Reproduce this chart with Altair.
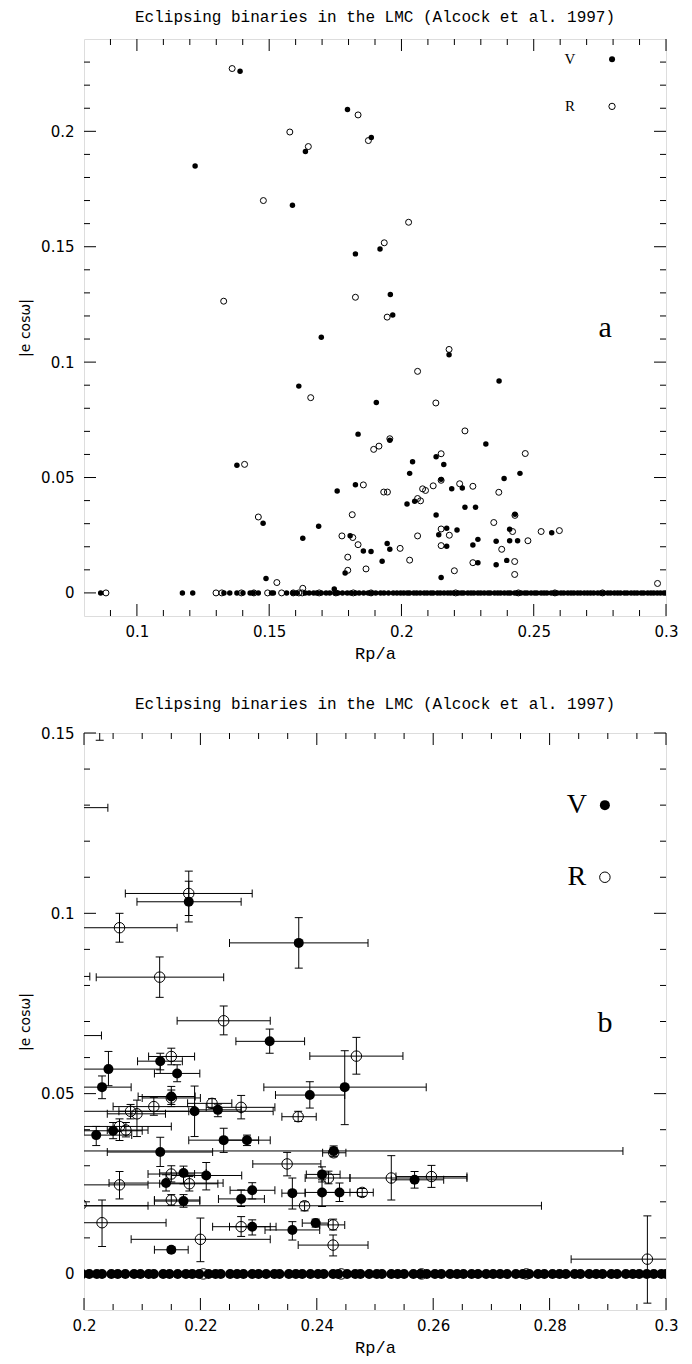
import altair as alt
import pandas as pd

TITLE = "Eclipsing binaries in the LMC (Alcock et al. 1997)"

# ---------------- V band (filled) : non-zero |e cos w| ----------------
v_x = [0.1390, 0.1220, 0.1588, 0.1637, 0.1796, 0.1886, 0.1826, 0.1919, 0.1967, 0.1697,
       0.1612, 0.1836, 0.1826, 0.1757, 0.1687, 0.1627, 0.1806, 0.1946, 0.1856, 0.1885,
       0.1927, 0.1787, 0.1746, 0.1378, 0.1477, 0.1488,
       0.1958, 0.1905, 0.1956, 0.1956,
       0.2180, 0.2369, 0.2319, 0.2131, 0.2042, 0.2160, 0.2031, 0.2448, 0.2388, 0.2150,
       0.2190, 0.2230, 0.2050, 0.2021, 0.2240, 0.2280, 0.2131, 0.2429, 0.2409, 0.2568,
       0.2171, 0.2210, 0.2141, 0.2289, 0.2358, 0.2409, 0.2439, 0.2270, 0.2171, 0.2289,
       0.2358, 0.2398, 0.2150]
v_y = [0.2260, 0.1850, 0.1680, 0.1913, 0.2095, 0.1973, 0.1469, 0.1490, 0.1204, 0.1108,
       0.0896, 0.0688, 0.0469, 0.0442, 0.0289, 0.0237, 0.0248, 0.0214, 0.0182, 0.0179,
       0.0137, 0.0086, 0.0017, 0.0553, 0.0302, 0.0062,
       0.1293, 0.0825, 0.0661, 0.0189,
       0.1032, 0.0918, 0.0645, 0.0590, 0.0568, 0.0556, 0.0518, 0.0518, 0.0496, 0.0492,
       0.0451, 0.0455, 0.0397, 0.0385, 0.0371, 0.0371, 0.0338, 0.0341, 0.0276, 0.0261,
       0.0280, 0.0273, 0.0252, 0.0232, 0.0224, 0.0226, 0.0226, 0.0208, 0.0202, 0.0131,
       0.0122, 0.0141, 0.0067]
N0 = [None] * 26
v_xlo = N0 + [0.1875, 0.1800, 0.1882, 0.1802,
              0.2091, 0.2250, 0.2261, 0.2092, 0.1955, 0.2121, 0.1981, 0.2309, 0.2329, 0.2093,
              0.2060, 0.2191, 0.2000, 0.1960, 0.2180, 0.2240, 0.2040, 0.1932, 0.2382, 0.2528,
              0.2130, 0.2150, 0.2043, 0.2251, 0.2340, 0.2380, 0.2410, 0.2231, 0.2121, 0.2250,
              0.2311, 0.2375, 0.2121]
v_xhi = N0 + [0.2041, 0.2010, 0.2030, 0.2110,
              0.2270, 0.2488, 0.2379, 0.2169, 0.2131, 0.2199, 0.2081, 0.2588, 0.2448, 0.2191,
              0.2325, 0.2270, 0.2100, 0.2082, 0.2300, 0.2320, 0.2221, 0.2926, 0.2440, 0.2618,
              0.2210, 0.2271, 0.2239, 0.2328, 0.2380, 0.2440, 0.2470, 0.2310, 0.2199, 0.2330,
              0.2405, 0.2420, 0.2179]
v_ylo = N0 + [0.1240, 0.0780, 0.0620, 0.0160,
              0.0976, 0.0848, 0.0612, 0.0566, 0.0522, 0.0533, 0.0486, 0.0414, 0.0460, 0.0464,
              0.0381, 0.0436, 0.0375, 0.0356, 0.0337, 0.0356, 0.0298, 0.0327, 0.0255, 0.0238,
              0.0250, 0.0233, 0.0230, 0.0208, 0.0180, 0.0187, 0.0201, 0.0187, 0.0185, 0.0108,
              0.0094, 0.0130, 0.0060]
v_yhi = N0 + [0.1340, 0.0870, 0.0700, 0.0220,
              0.1089, 0.0988, 0.0679, 0.0612, 0.0617, 0.0580, 0.0549, 0.0619, 0.0533, 0.0520,
              0.0521, 0.0471, 0.0420, 0.0409, 0.0404, 0.0385, 0.0379, 0.0355, 0.0297, 0.0284,
              0.0299, 0.0309, 0.0275, 0.0253, 0.0266, 0.0261, 0.0252, 0.0233, 0.0220, 0.0150,
              0.0145, 0.0152, 0.0075]

# ---------------- R band (open) : non-zero |e cos w| ----------------
r_x = [0.1360, 0.1328, 0.1478, 0.1578, 0.1648, 0.1836, 0.1875, 0.1826, 0.1935, 0.1946,
       0.1657, 0.1895, 0.1915, 0.1956, 0.1856, 0.1933, 0.1947, 0.1814, 0.1775, 0.1816,
       0.1836, 0.1995, 0.1797, 0.1866, 0.1797, 0.1627, 0.1407, 0.1459, 0.1529,
       0.2027, 0.2180, 0.2061, 0.2130, 0.2240, 0.2468, 0.2150, 0.2150, 0.2120, 0.2080,
       0.2091, 0.2220, 0.2270, 0.2368, 0.2061, 0.2072, 0.2349, 0.2420, 0.2528, 0.2597,
       0.2150, 0.2181, 0.2061, 0.2478, 0.2150, 0.2379, 0.2031, 0.2270, 0.2428, 0.2200,
       0.2428, 0.2968, 0.2429]
r_y = [0.2272, 0.1264, 0.1700, 0.1997, 0.1934, 0.2071, 0.1960, 0.1281, 0.1517, 0.1195,
       0.0846, 0.0622, 0.0636, 0.0668, 0.0468, 0.0437, 0.0437, 0.0339, 0.0247, 0.0240,
       0.0209, 0.0193, 0.0155, 0.0104, 0.0098, 0.0020, 0.0557, 0.0329, 0.0045,
       0.1606, 0.1055, 0.0960, 0.0823, 0.0702, 0.0604, 0.0603, 0.0488, 0.0464, 0.0451,
       0.0444, 0.0473, 0.0462, 0.0436, 0.0409, 0.0399, 0.0305, 0.0266, 0.0266, 0.0270,
       0.0277, 0.0250, 0.0247, 0.0226, 0.0205, 0.0189, 0.0142, 0.0131, 0.0136, 0.0096,
       0.0080, 0.0041, 0.0336]
N1 = [None] * 29
r_xlo = N1 + [0.1960, 0.2071, 0.1962, 0.2021, 0.2160, 0.2388, 0.2111, 0.2100, 0.2050, 0.1980,
              0.2040, 0.2178, 0.2210, 0.2340, 0.1970, 0.2040, 0.2290, 0.2380, 0.2457, 0.2536,
              0.2110, 0.2130, 0.1970, 0.2457, 0.2121, 0.1970, 0.1921, 0.2221, 0.2405, 0.2081,
              0.2368, 0.2837, 0.2410]
r_xhi = N1 + [0.2095, 0.2289, 0.2160, 0.2240, 0.2320, 0.2548, 0.2190, 0.2200, 0.2190, 0.2180,
              0.2140, 0.2254, 0.2328, 0.2399, 0.2150, 0.2110, 0.2407, 0.2457, 0.2658, 0.2658,
              0.2190, 0.2230, 0.2110, 0.2497, 0.2199, 0.2786, 0.2141, 0.2320, 0.2448, 0.2320,
              0.2488, 0.3099, 0.2450]
r_ylo = N1 + [0.1480, 0.0994, 0.0920, 0.0767, 0.0663, 0.0554, 0.0580, 0.0470, 0.0440, 0.0430,
              0.0381, 0.0460, 0.0430, 0.0423, 0.0370, 0.0380, 0.0272, 0.0250, 0.0205, 0.0240,
              0.0255, 0.0230, 0.0208, 0.0215, 0.0190, 0.0175, 0.0076, 0.0104, 0.0122, 0.0034,
              0.0050, -0.0081, 0.0325]
r_yhi = N1 + [0.1730, 0.1117, 0.1000, 0.0879, 0.0743, 0.0656, 0.0626, 0.0510, 0.0490, 0.0470,
              0.0482, 0.0486, 0.0495, 0.0451, 0.0430, 0.0420, 0.0337, 0.0285, 0.0328, 0.0301,
              0.0300, 0.0270, 0.0284, 0.0237, 0.0220, 0.0200, 0.0205, 0.0159, 0.0152, 0.0155,
              0.0108, 0.0161, 0.0350]

# ---------------- systems with e cos w = 0 ----------------
v_zero_x = [0.0863, 0.1172, 0.1211, 0.1329, 0.1351, 0.1378, 0.1401, 0.1428, 0.1440, 0.1459,
            0.1509, 0.1516, 0.1566, 0.1590, 0.1604, 0.1636, 0.1651, 0.1668, 0.1680, 0.1697,
            0.1715, 0.1729, 0.1748, 0.1760, 0.1777, 0.1795, 0.1809, 0.1826, 0.1840, 0.1857,
            0.1874, 0.1888, 0.1903, 0.1921, 0.1934, 0.1951, 0.1969, 0.1983, 0.1997, 0.2009,
            0.2022, 0.2031, 0.2047, 0.2058, 0.2071, 0.2086, 0.2097, 0.2111, 0.2120, 0.2136,
            0.2147, 0.2161, 0.2175, 0.2186, 0.2198, 0.2214, 0.2226, 0.2235, 0.2251, 0.2263,
            0.2274, 0.2289, 0.2300, 0.2313, 0.2327, 0.2336, 0.2352, 0.2364, 0.2375, 0.2389,
            0.2402, 0.2412, 0.2428, 0.2437, 0.2452, 0.2466, 0.2475, 0.2490, 0.2503, 0.2512,
            0.2528, 0.2539, 0.2550, 0.2566, 0.2578, 0.2589, 0.2603, 0.2614, 0.2629, 0.2641,
            0.2652, 0.2666, 0.2677, 0.2691, 0.2703, 0.2715, 0.2727, 0.2742, 0.2754, 0.2765,
            0.2780, 0.2791, 0.2805, 0.2817, 0.2828, 0.2843, 0.2853, 0.2868, 0.2880, 0.2891,
            0.2906, 0.2916, 0.2931, 0.2943, 0.2954, 0.2967, 0.2979, 0.2992, 0.3000]
r_zero_x = [0.0883, 0.1299, 0.1321, 0.1395, 0.1442, 0.1494, 0.1547, 0.1591, 0.1612, 0.1625,
            0.1689, 0.1752, 0.1818, 0.1885, 0.2205, 0.2442, 0.2580, 0.2760]

# ---------------- axes ----------------
top_x_major = [0.1, 0.15, 0.2, 0.25, 0.3]
top_x_minor = [0.09, 0.11, 0.12, 0.13, 0.14, 0.16, 0.17, 0.18, 0.19, 0.21, 0.22, 0.23,
               0.24, 0.26, 0.27, 0.28, 0.29]
top_y_major = [0, 0.05, 0.1, 0.15, 0.2]
top_y_minor = [0.01, 0.02, 0.03, 0.04, 0.06, 0.07, 0.08, 0.09, 0.11, 0.12, 0.13, 0.14,
               0.16, 0.17, 0.18, 0.19, 0.21, 0.22, 0.23]
bot_x_major = [0.2, 0.22, 0.24, 0.26, 0.28, 0.3]
bot_x_minor = [0.205, 0.21, 0.215, 0.225, 0.23, 0.235, 0.245, 0.25, 0.255, 0.265, 0.27,
               0.275, 0.285, 0.29, 0.295]
bot_y_major = [0, 0.05, 0.1, 0.15]
bot_y_minor = [0.01, 0.02, 0.03, 0.04, 0.06, 0.07, 0.08, 0.09, 0.11, 0.12, 0.13, 0.14]

# ---------------- in-plot labels ----------------
top_leg_text = ["V", "R"]
top_leg_tx = [0.2637, 0.2637]
top_leg_mx = [0.2796, 0.2796]
top_leg_y = [0.2312, 0.2108]
bot_leg_text = ["V", "R"]
bot_leg_tx = [0.2847, 0.2847]
bot_leg_mx = [0.2895, 0.2895]
bot_leg_y = [0.130, 0.110]
panel_letter = ["a", "b"]
letter_x = [0.2770, 0.2895]
letter_y = [0.1147, 0.0696]

W, H = 582, 577
LAB_FONT = "DejaVu Sans"
MONO = "Liberation Mono"
SERIF = "Liberation Serif"
LABEL_EXPR = "datum.value == 0 ? '0' : format(datum.value, '.2~f')"

vdf = pd.DataFrame(dict(x=v_x, y=v_y, xlo=v_xlo, xhi=v_xhi, ylo=v_ylo, yhi=v_yhi))
rdf = pd.DataFrame(dict(x=r_x, y=r_y, xlo=r_xlo, xhi=r_xhi, ylo=r_ylo, yhi=r_yhi))
vz = pd.DataFrame(dict(x=v_zero_x))
vz["y"] = 0.0
rz = pd.DataFrame(dict(x=r_zero_x))
rz["y"] = 0.0


def panel(xdom, ydom, xmaj, xmin, ymaj, ymin, fsize, osize, errors,
          leg_text, leg_tx, leg_mx, leg_y, leg_fs, leg_fsize, leg_osize, letter, lx, ly):
    xsc = alt.Scale(domain=xdom, nice=False, zero=False)
    ysc = alt.Scale(domain=ydom, nice=False, zero=False)
    xax = alt.Axis(values=xmaj, labelExpr=LABEL_EXPR, title="Rp/a", grid=False, ticks=False,
                   domain=False, labelFont=LAB_FONT, labelFontSize=15, labelColor="black",
                   labelPadding=8, titleFont=MONO, titleFontSize=17,
                   titleFontWeight="normal", titleColor="black", titlePadding=6,
                   labelFlush=False)
    yax = alt.Axis(values=ymaj, labelExpr=LABEL_EXPR, title="|e cosω|", grid=False,
                   ticks=False, domain=False, labelFont=LAB_FONT, labelFontSize=15,
                   labelColor="black", labelPadding=10, titleFont=LAB_FONT,
                   titleFontSize=14, titleFontWeight="normal", titleColor="black",
                   titlePadding=4, labelFlush=False, minExtent=48)

    def X(f):
        return alt.X(f, type="quantitative", scale=xsc, axis=xax)

    def Y(f):
        return alt.Y(f, type="quantitative", scale=ysc, axis=yax)

    layers = []
    # inward frame ticks
    for vals, L in ((xmaj, 12), (xmin, 6)):
        r = alt.Chart(pd.DataFrame({"x": vals})).mark_rule(color="black", strokeWidth=1)
        layers.append(r.encode(x=X("x"), y=alt.value(H), y2=alt.value(H - L)))
        layers.append(r.encode(x=X("x"), y=alt.value(0), y2=alt.value(L)))
    for vals, L in ((ymaj, 12), (ymin, 6)):
        r = alt.Chart(pd.DataFrame({"y": vals})).mark_rule(color="black", strokeWidth=1)
        layers.append(r.encode(y=Y("y"), x=alt.value(0), x2=alt.value(L)))
        layers.append(r.encode(y=Y("y"), x=alt.value(W), x2=alt.value(W - L)))

    if errors:
        for df in (vdf, rdf):
            e = alt.Chart(df).transform_filter("isValid(datum.xlo)")
            layers += [
                e.mark_rule(clip=True, color="black", strokeWidth=1).encode(
                    x=X("xlo"), x2=alt.X2("xhi"), y=Y("y")),
                e.mark_rule(clip=True, color="black", strokeWidth=1).encode(
                    x=X("x"), y=Y("ylo"), y2=alt.Y2("yhi")),
                e.mark_tick(clip=True, orient="vertical", size=8, thickness=1,
                            color="black", opacity=1).encode(x=X("xlo"), y=Y("y")),
                e.mark_tick(clip=True, orient="vertical", size=8, thickness=1,
                            color="black", opacity=1).encode(x=X("xhi"), y=Y("y")),
                e.mark_tick(clip=True, orient="horizontal", size=8, thickness=1,
                            color="black", opacity=1).encode(x=X("x"), y=Y("ylo")),
                e.mark_tick(clip=True, orient="horizontal", size=8, thickness=1,
                            color="black", opacity=1).encode(x=X("x"), y=Y("yhi")),
            ]

    def opn(df, s):
        return alt.Chart(df).mark_point(shape="circle", filled=False, color="black",
                                        strokeWidth=1, size=s, opacity=1, clip=True
                                        ).encode(x=X("x"), y=Y("y"))

    def fil(df, s):
        return alt.Chart(df).mark_circle(color="black", size=s, opacity=1, clip=True
                                         ).encode(x=X("x"), y=Y("y"))

    layers += [opn(rz, osize), opn(rdf, osize), fil(vz, fsize), fil(vdf, fsize)]

    # legend + panel letter
    tdf = pd.DataFrame(dict(t=leg_text, x=leg_tx, y=leg_y))
    layers.append(alt.Chart(tdf).mark_text(font=SERIF, fontSize=leg_fs, color="black",
                                           align="center", baseline="middle").encode(
        x=X("x"), y=Y("y"), text="t:N"))
    mv = pd.DataFrame(dict(x=leg_mx[:1], y=leg_y[:1]))
    mr = pd.DataFrame(dict(x=leg_mx[1:], y=leg_y[1:]))
    layers.append(fil(mv, leg_fsize))
    layers.append(opn(mr, leg_osize))
    ldf = pd.DataFrame(dict(t=[letter], x=[lx], y=[ly]))
    layers.append(alt.Chart(ldf).mark_text(font=SERIF, fontSize=30, color="black",
                                           align="center", baseline="middle").encode(
        x=X("x"), y=Y("y"), text="t:N"))

    return alt.layer(*layers).properties(
        width=W, height=H,
        title=alt.TitleParams(TITLE, font=MONO, fontSize=16, fontWeight="normal",
                              color="black", offset=14))


top = panel([0.08, 0.3], [-0.01, 0.24], top_x_major, top_x_minor, top_y_major,
            top_y_minor, 30, 36, False, top_leg_text, top_leg_tx, top_leg_mx, top_leg_y,
            15, 36, 40, panel_letter[0], letter_x[0], letter_y[0])
bot = panel([0.2, 0.3], [-0.01, 0.15], bot_x_major, bot_x_minor, bot_y_major,
            bot_y_minor, 100, 110, True, bot_leg_text, bot_leg_tx, bot_leg_mx, bot_leg_y,
            28, 100, 110, panel_letter[1], letter_x[1], letter_y[1])

chart = alt.vconcat(top, bot, spacing=33).properties(
    padding={"left": 9, "top": 0, "right": 5, "bottom": 0}
).configure_view(stroke="black", strokeWidth=1.2).configure(background="white")

chart.save("out.html", embed_options={"renderer": "svg", "actions": False})
